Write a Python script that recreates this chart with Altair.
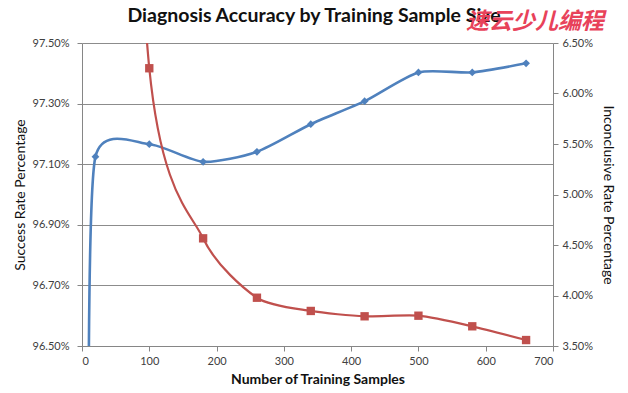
import altair as alt
import pandas as pd

title_text = "Diagnosis Accuracy by Training Sample Size"
x_title = "Number of Training Samples"
left_title = "Success Rate Percentage"
right_title = "Inconclusive Rate Percentage"
watermark = "速云少儿编程"

# Success rate (left axis, %); the first point lies below the visible range
success_x = [10, 20, 100, 180, 260, 340, 420, 500, 580, 660]
success_y = [96.3, 97.125, 97.166, 97.108, 97.141, 97.232, 97.308, 97.403, 97.403, 97.433]

# Inconclusive rate (right axis, %); the first point lies above the visible range
inconc_x = [20, 100, 180, 260, 340, 420, 500, 580, 660]
inconc_y = [15.3, 6.25, 4.566, 3.978, 3.847, 3.794, 3.800, 3.695, 3.559]

x_ticks = [0, 100, 200, 300, 400, 500, 600, 700]
left_ticks = [96.5, 96.7, 96.9, 97.1, 97.3, 97.5]
right_ticks = [3.5, 4.0, 4.5, 5.0, 5.5, 6.0, 6.5]

BLUE = "#4F81BD"
RED = "#C0504D"
GRID = "#8C8C8C"
FONT = "Lato"

s_df = pd.DataFrame({"samples": success_x, "rate": success_y})
i_df = pd.DataFrame({"samples": inconc_x, "rate": inconc_y})

x_enc = alt.X(
    "samples:Q",
    scale=alt.Scale(domain=[0, 700], nice=False, zero=False),
    axis=alt.Axis(values=x_ticks, title=x_title, grid=False, titleFontWeight="bold",
                  titlePadding=6, labelPadding=4, tickSize=5),
)

y_left = alt.Y(
    "rate:Q",
    scale=alt.Scale(domain=[96.5, 97.5], nice=False, zero=False),
    axis=alt.Axis(values=left_ticks, orient="left", title=left_title, grid=True,
                  gridColor=GRID, gridWidth=1,
                  labelExpr="format(datum.value, '.2f') + '%'",
                  titleFontWeight="normal", titlePadding=5, labelPadding=8, tickSize=5),
)

y_right = alt.Y(
    "rate:Q",
    scale=alt.Scale(domain=[3.5, 6.5], nice=False, zero=False),
    axis=alt.Axis(values=right_ticks, orient="right", title=right_title, grid=False,
                  labelExpr="format(datum.value, '.2f') + '%'",
                  titleFontWeight="normal", titlePadding=8, labelPadding=4, tickSize=5),
)

blue_line = alt.Chart(s_df).mark_line(
    interpolate="cardinal", tension=0.3, color=BLUE, strokeWidth=2.6, clip=True
).encode(x=x_enc, y=y_left)
blue_pts = alt.Chart(s_df).mark_point(
    shape="diamond", filled=True, color=BLUE, size=60, opacity=1, clip=True
).encode(x=x_enc, y=y_left)
blue = alt.layer(blue_line, blue_pts)

red_line = alt.Chart(i_df).mark_line(
    interpolate="cardinal", tension=0.3, color=RED, strokeWidth=2.2, clip=True
).encode(x=x_enc, y=y_right)
red_pts = alt.Chart(i_df).mark_point(
    shape="square", filled=True, color=RED, size=70, opacity=1, clip=True
).encode(x=x_enc, y=y_right)
red = alt.layer(red_line, red_pts)

title_mark = alt.Chart(pd.DataFrame({"t": [title_text]})).mark_text(
    font=FONT, fontSize=19.5, fontWeight="bold", color="#111111",
    align="center", baseline="alphabetic", clip=False
).encode(x=alt.value(232), y=alt.value(-21), text="t:N")

wm = alt.Chart(pd.DataFrame({"t": [watermark]})).mark_text(
    font="Noto Sans CJK SC", fontSize=23, fontWeight="bold", color="#E8425A",
    fontStyle="italic", align="center", baseline="middle", clip=False
).encode(x=alt.value(453), y=alt.value(-21), text="t:N")

chart = alt.layer(blue, red, title_mark, wm).resolve_scale(y="independent").properties(
    width=471,
    height=303,
    padding={"left": 74, "top": 35, "right": 67, "bottom": 46},
    autosize=alt.AutoSizeParams(type="none"),
).configure_axis(
    labelFont=FONT, labelFontSize=11, labelColor="#404040",
    titleFont=FONT, titleFontSize=14, titleColor="#111111",
    domainColor="#868686", tickColor="#868686",
).configure_view(stroke=None)

chart.save("out.html", embed_options={"renderer": "svg", "actions": False})
